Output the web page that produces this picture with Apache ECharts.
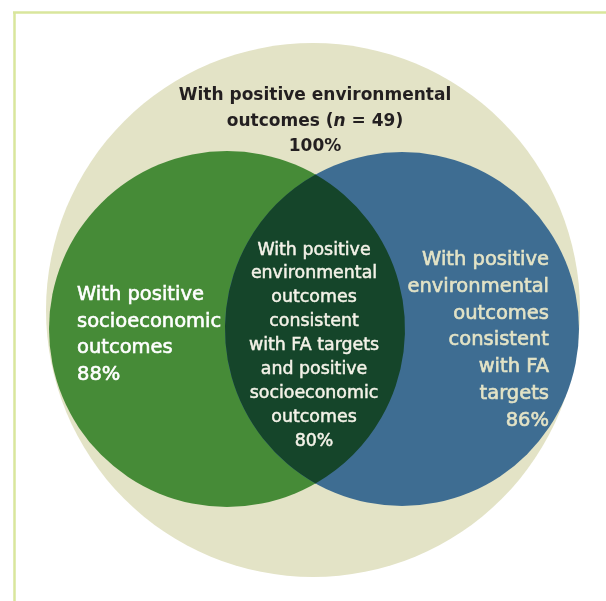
<!DOCTYPE html>
<html><head><meta charset="utf-8">
<script src="https://cdn.jsdelivr.net/npm/echarts@6/dist/echarts.min.js"></script>
<style>html,body{margin:0;padding:0;background:#fff}#c{width:606px;height:601px}</style>
</head><body><div id="c"></div>
<script>
// ---- data ----
const sampleSize = 49;
const setKeys = ['env', 'socio', 'target', 'both'];
const sharePct = [100, 88, 86, 80];
const labelLinesEnv = ['With positive environmental', 'outcomes (n = ' + sampleSize + ')'];
const labelLinesSocio = ['With positive', 'socioeconomic', 'outcomes'];
const labelLinesTarget = ['With positive', 'environmental', 'outcomes', 'consistent', 'with FA', 'targets'];
const labelLinesBoth = ['With positive', 'environmental', 'outcomes', 'consistent', 'with FA targets', 'and positive', 'socioeconomic', 'outcomes'];

// ---- layout (pixel-like data units on a hidden 606x601 plane) ----
const circleLayout = [[313, 310, 267], [227, 329, 178], [402, 329, 177]];
const circleColors = ['#e3e3c6', '#468b37', '#3e6d92'];
const lensColor = '#15452a';
const labelLayout = [
  {x: 315, y: 96, lh: 25.5, align: 'center', color: '#231f20', size: 17, weight: 'bold', stroke: 0},
  {x: 77, y: 295, lh: 26.7, align: 'left', color: '#ffffff', size: 19.5, weight: 'normal', stroke: 0.6},
  {x: 549, y: 260, lh: 26.8, align: 'right', color: '#e3e3c6', size: 19.5, weight: 'normal', stroke: 0.6},
  {x: 314, y: 250, lh: 23.9, align: 'center', color: '#f4f2e8', size: 17.4, weight: 'normal', stroke: 0.5}
];
const FONT = 'DejaVu Sans';

const allLines = [labelLinesEnv, labelLinesSocio, labelLinesTarget, labelLinesBoth]
  .map((ls, i) => ls.concat([sharePct[i] + '%']));

const textData = [];
allLines.forEach((ls, g) => ls.forEach((t, k) => {
  const L = labelLayout[g];
  textData.push([L.x, L.y + k * L.lh, g, t]);
}));

const chart = echarts.init(document.getElementById('c'), null, {renderer: 'canvas'});
chart.setOption({
  animation: false,
  backgroundColor: '#ffffff',
  grid: {left: 0, right: 0, top: 0, bottom: 0},
  xAxis: {type: 'value', min: 0, max: 606, show: false},
  yAxis: {type: 'value', min: 0, max: 601, inverse: true, show: false},
  graphic: [
    {type: 'line', shape: {x1: 13, y1: 12.5, x2: 606, y2: 12.5}, style: {stroke: '#d9e69c', lineWidth: 2.5}},
    {type: 'line', shape: {x1: 14.5, y1: 12, x2: 14.5, y2: 601}, style: {stroke: '#d9e69c', lineWidth: 2.5}}
  ],
  series: [
    {
      type: 'custom', coordinateSystem: 'cartesian2d', silent: true, z: 1,
      data: circleLayout,
      renderItem: function (params, api) {
        const c = api.coord([api.value(0), api.value(1)]);
        const r = api.size([api.value(2), 0])[0];
        return {type: 'circle', shape: {cx: c[0], cy: c[1], r: r}, style: {fill: circleColors[params.dataIndex]}};
      }
    },
    {
      type: 'custom', coordinateSystem: 'cartesian2d', silent: true, z: 2,
      data: [[0]],
      renderItem: function (params, api) {
        const a = circleLayout[1], b = circleLayout[2];
        const A = api.coord([a[0], a[1]]), B = api.coord([b[0], b[1]]);
        const ra = api.size([a[2], 0])[0], rb = api.size([b[2], 0])[0];
        const dx = B[0] - A[0], dy = B[1] - A[1];
        const d = Math.sqrt(dx * dx + dy * dy);
        const l = (ra * ra - rb * rb + d * d) / (2 * d);
        const h = Math.sqrt(ra * ra - l * l);
        const mx = A[0] + l * dx / d, my = A[1] + l * dy / d;
        const p1 = [mx + h * dy / d, my - h * dx / d];
        const p2 = [mx - h * dy / d, my + h * dx / d];
        const top = p1[1] < p2[1] ? p1 : p2, bot = p1[1] < p2[1] ? p2 : p1;
        const path = 'M' + top[0] + ' ' + top[1] +
          ' A' + ra + ' ' + ra + ' 0 0 1 ' + bot[0] + ' ' + bot[1] +
          ' A' + rb + ' ' + rb + ' 0 0 1 ' + top[0] + ' ' + top[1] + ' Z';
        return {type: 'path', shape: {pathData: path}, style: {fill: lensColor}};
      }
    },
    {
      type: 'custom', coordinateSystem: 'cartesian2d', silent: true, z: 3,
      data: textData,
      renderItem: function (params, api) {
        const d = textData[params.dataIndex];
        const L = labelLayout[d[2]];
        const c = api.coord([d[0], d[1]]);
        let txt = d[3];
        const base = {fontFamily: FONT, fontSize: L.size, fontWeight: L.weight, fill: L.color,
          stroke: L.stroke ? L.color : null, lineWidth: L.stroke};
        const rich = {
          n: Object.assign({}, base),
          i: Object.assign({}, base, {fontStyle: 'italic'})
        };
        if (txt.indexOf('(n =') >= 0) {
          const parts = txt.split('(n');
          txt = '{n|' + parts[0] + '(}{i|n}{n|' + parts[1] + '}';
        } else {
          txt = '{n|' + txt + '}';
        }
        return {
          type: 'text', x: c[0], y: c[1],
          style: Object.assign({text: txt, rich: rich, align: L.align, verticalAlign: 'middle'}, base)
        };
      }
    }
  ]
});
</script></body></html>
